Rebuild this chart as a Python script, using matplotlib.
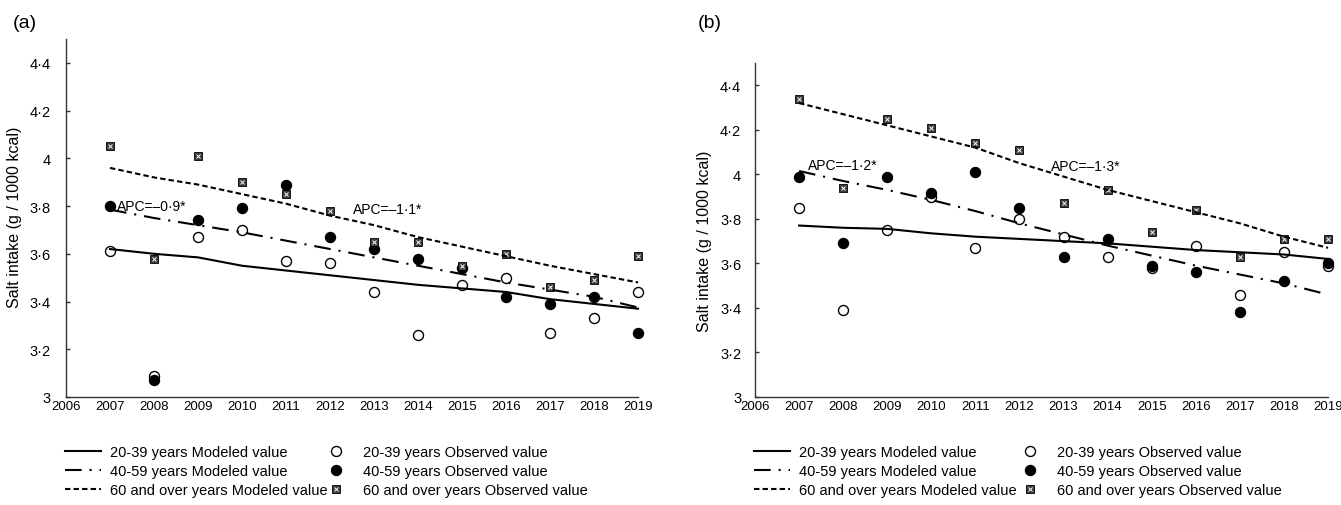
import matplotlib

matplotlib.use("Agg")
import matplotlib.pyplot as plt
from matplotlib.legend_handler import HandlerTuple

plt.rcParams["font.family"] = ["Liberation Sans", "DejaVu Sans"]

# ── data ──────────────────────────────────────────────────────────────────
YEARS = list(range(2007, 2020))
X_TICKS = list(range(2006, 2020))
Y_TICKS = [3.0, 3.2, 3.4, 3.6, 3.8, 4.0, 4.2, 4.4]
Y_TICK_LABELS = ["3", "3·2", "3·4", "3·6", "3·8", "4", "4·2", "4·4"]

# panel (a)
a_obs_20 = [3.61, 3.09, 3.67, 3.70, 3.57, 3.56, 3.44, 3.26, 3.47, 3.50, 3.27, 3.33, 3.44]
a_obs_40 = [3.80, 3.07, 3.74, 3.79, 3.89, 3.67, 3.62, 3.58, 3.54, 3.42, 3.39, 3.42, 3.27]
a_obs_60 = [4.05, 3.58, 4.01, 3.90, 3.85, 3.78, 3.65, 3.65, 3.55, 3.60, 3.46, 3.49, 3.59]
a_mod_20 = [3.62, 3.60, 3.585, 3.55, 3.53, 3.51, 3.49, 3.47, 3.455, 3.44, 3.41, 3.39, 3.37]
a_mod_40 = [3.785, 3.75, 3.72, 3.69, 3.655, 3.62, 3.585, 3.55, 3.515, 3.48, 3.45, 3.42, 3.375]
a_mod_60 = [3.96, 3.92, 3.89, 3.85, 3.81, 3.76, 3.72, 3.67, 3.63, 3.59, 3.55, 3.515, 3.48]
a_apc_text = ["APC=\u20130\u00b79*", "APC=\u20131\u00b71*"]
a_apc_pos = [(2007.16, 3.80), (2012.52, 3.787)]

# panel (b)
b_obs_20 = [3.85, 3.39, 3.75, 3.90, 3.67, 3.80, 3.72, 3.63, 3.58, 3.68, 3.46, 3.65, 3.59]
b_obs_40 = [3.99, 3.69, 3.99, 3.915, 4.01, 3.85, 3.63, 3.71, 3.59, 3.56, 3.38, 3.52, 3.60]
b_obs_60 = [4.34, 3.94, 4.25, 4.21, 4.14, 4.11, 3.87, 3.93, 3.74, 3.84, 3.63, 3.71, 3.71]
b_mod_20 = [3.77, 3.76, 3.755, 3.735, 3.72, 3.71, 3.70, 3.69, 3.675, 3.66, 3.65, 3.64, 3.62]
b_mod_40 = [4.015, 3.97, 3.93, 3.885, 3.835, 3.78, 3.73, 3.68, 3.635, 3.59, 3.55, 3.51, 3.46]
b_mod_60 = [4.32, 4.27, 4.22, 4.17, 4.12, 4.05, 3.99, 3.93, 3.88, 3.83, 3.78, 3.72, 3.67]
b_apc_text = ["APC=\u20131\u00b72*", "APC=\u20131\u00b73*"]
b_apc_pos = [(2007.2, 4.04), (2012.71, 4.036)]

MOD_LABELS = ["20-39 years Modeled value", "40-59 years Modeled value",
              "60 and over years Modeled value"]
OBS_LABELS = ["20-39 years Observed value", "40-59 years Observed value",
              "60 and over years Observed value"]

W, H = 1341, 506
SPINE = "#333333"


def _px(x0, y_top, x1, y_bot):
    """pixel box -> figure fraction rect"""
    return [x0 / W, 1 - y_bot / H, (x1 - x0) / W, (y_bot - y_top) / H]


def _plot_panel(fig, rect, obs, mod, apc_text, apc_pos, tag, tag_x,
                ylab_xy, ypad, leg_x):
    ax = fig.add_axes(rect)
    o20, o40, o60 = obs
    m20, m40, m60 = mod

    # observed points (open, filled, patterned square)
    h_o20, = ax.plot(YEARS, o20, ls="none", marker="o", ms=7.2, mfc="white",
                     mec="black", mew=1.0, clip_on=False, zorder=3)
    h_o40, = ax.plot(YEARS, o40, ls="none", marker="o", ms=7.2, mfc="black",
                     mec="black", mew=1.0, clip_on=False, zorder=4)
    h_sq, = ax.plot(YEARS, o60, ls="none", marker="s", ms=5.4, mfc="#3a3a3a",
                    mec="black", mew=0.6, clip_on=False, zorder=5)
    h_sx, = ax.plot(YEARS, o60, ls="none", marker="x", ms=2.6, mec="white",
                    mew=0.7, clip_on=False, zorder=6)

    # modeled joinpoint lines
    h_m20, = ax.plot(YEARS, m20, color="black", lw=1.5, ls="-", zorder=7,
                     clip_on=False)
    h_m40, = ax.plot(YEARS, m40, color="black", lw=1.5,
                     ls=(0, (8, 3.8, 1, 3.8)), zorder=7, clip_on=False)
    h_m60, = ax.plot(YEARS, m60, color="black", lw=1.5,
                     ls=(0, (2.6, 1.5)), zorder=7, clip_on=False)

    for txt, (x, y) in zip(apc_text, apc_pos):
        ax.text(x, y, txt, fontsize=10, ha="left", va="center", zorder=8)

    ax.set_xlim(2006, 2019)
    ax.set_ylim(3, 4.5)
    ax.set_xticks(X_TICKS)
    ax.set_xticklabels([str(t) for t in X_TICKS])
    ax.set_yticks(Y_TICKS)
    ax.set_yticklabels(Y_TICK_LABELS)
    ax.tick_params(axis="x", length=0, pad=2.5, labelsize=9.5)
    ax.tick_params(axis="y", direction="in", length=3, width=1, color=SPINE,
                   pad=ypad, labelsize=10.5)
    for s in ("top", "right"):
        ax.spines[s].set_visible(False)
    for s in ("left", "bottom"):
        ax.spines[s].set_color(SPINE)
        ax.spines[s].set_linewidth(1.0)

    ax.set_ylabel("Salt intake (g / 1000 kcal)", fontsize=11.5)
    ax.yaxis.set_label_coords(*ylab_xy)

    fig.text(tag_x / W, 1 - 23 / H, tag, fontsize=14, ha="left", va="center")

    # legend: modeled lines (left col) and observed markers (right col)
    common = dict(loc="center left", frameon=False, fontsize=10.5,
                  borderpad=0, borderaxespad=0, labelspacing=0.33,
                  numpoints=1)
    fig.legend([h_m20, h_m40, h_m60], MOD_LABELS,
               bbox_to_anchor=(leg_x[0] / W, 1 - 472 / H),
               handlelength=2.5, handletextpad=0.6, **common)
    fig.legend([h_o20, h_o40, (h_sq, h_sx)], OBS_LABELS,
               bbox_to_anchor=(leg_x[1] / W, 1 - 472 / H),
               handlelength=1.0, handletextpad=1.3,
               handler_map={tuple: HandlerTuple(ndivide=1)}, **common)
    return ax


def main() -> None:
    fig = plt.figure(figsize=(W / 100, H / 100), dpi=100)

    _plot_panel(fig, _px(66, 40, 638, 398),
                (a_obs_20, a_obs_40, a_obs_60), (a_mod_20, a_mod_40, a_mod_60),
                a_apc_text, a_apc_pos, "(a)", 13,
                (-0.0775, 0.505), 11, (65, 329))
    _plot_panel(fig, _px(755, 64, 1328, 398),
                (b_obs_20, b_obs_40, b_obs_60), (b_mod_20, b_mod_40, b_mod_60),
                b_apc_text, b_apc_pos, "(b)", 698,
                (-0.0756, 0.47), 10, (754, 1023))

    fig.savefig("out.png", dpi=100)
    plt.close(fig)


if __name__ == "__main__":
    main()
